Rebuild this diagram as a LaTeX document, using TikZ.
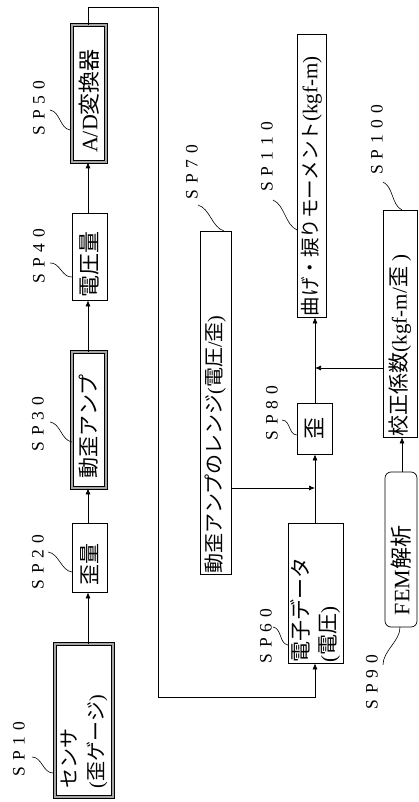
\documentclass[tikz,border=0pt]{standalone}
\usepackage{fontspec}
\usepackage{graphicx}
\setmainfont{Liberation Serif}
\newfontfamily\cjk{Noto Sans CJK JP}
\usetikzlibrary{arrows.meta,calc}
\newcommand\jp[1]{{\cjk #1}}
\newcommand\vt[2]{\rotatebox{90}{\makebox[#1][l]{#2}}}
\newcommand\vtt[3]{\rotatebox{90}{\parbox{#1}{\raggedright #2\\#3}}}
\newcommand\sk{\kern6pt}
\newcommand\leader[2]{\draw[lead] (#1) .. controls ($(#1)!0.3!(#2)!6pt!90:(#2)$) and ($(#1)!0.7!(#2)!6pt!-90:(#2)$) .. (#2);}
\tikzset{
  box/.style={draw, line width=0.7pt, inner sep=0pt, rectangle},
  dbox/.style={box, double=black!35, double distance=1.8pt},
  lab/.style={inner sep=0pt, font=\fontsize{17.5}{17.5}\selectfont},
  conn/.style={line width=0.7pt},
  arr/.style={conn, -{Latex[length=6pt,width=5pt]}},
  lead/.style={line width=0.6pt}
}
\begin{document}
\begin{tikzpicture}[x=1pt,y=-1pt]
\fill[white] (0,0) rectangle (418,802);
\useasboundingbox (0,0) rectangle (418,802);

% boxes
\node[dbox, minimum width=58pt, minimum height=153pt, font=\fontsize{20}{27}\selectfont] (b10) at (84,720.5) {\vtt{135pt}{\jp{センサ}}{(\jp{歪ゲージ})}};
\node[box, minimum width=35pt, minimum height=69pt, font=\fontsize{21}{21}\selectfont] (b20) at (89.5,557.5) {\vt{55pt}{\jp{歪量}}};
\node[dbox, minimum width=34pt, minimum height=136pt, font=\fontsize{21}{21}\selectfont] (b30) at (89,420) {\vt{116pt}{\jp{動歪アンプ}}};
\node[box, minimum width=35pt, minimum height=87pt, font=\fontsize{22}{22}\selectfont] (b40) at (89.5,256.5) {\vt{81pt}{\jp{電圧量}}};
\node[dbox, minimum width=34pt, minimum height=137pt, font=\fontsize{22}{22}\selectfont] (b50) at (89,93.5) {\vt{119pt}{A/D\jp{変換器}}};
\node[box, minimum width=55pt, minimum height=140pt, font=\fontsize{21}{27}\selectfont] (b60) at (315.5,593) {\vtt{138pt}{\jp{電子データ}}{(\jp{電圧})}};
\node[box, minimum width=31pt, minimum height=343pt, font=\fontsize{20}{20}\selectfont] (b70) at (215.5,402.5) {\vt{341pt}{\jp{動歪アンプのレンジ}(\jp{電圧}/\jp{歪})}};
\node[box, minimum width=35pt, minimum height=51pt, font=\fontsize{22}{22}\selectfont] (b80) at (314.5,428.5) {\rotatebox{90}{\jp{歪}}};
\node[box, rounded corners=6pt, minimum width=32pt, minimum height=155pt, font=\fontsize{22}{22}\selectfont] (b90) at (401,549.5) {\vt{131pt}{FEM\jp{解析}}};
\node[box, minimum width=34pt, minimum height=227pt, font=\fontsize{21}{21}\selectfont] (b100) at (400,323.5) {\vt{225pt}{\jp{校正係数}(kgf-m/\jp{歪} )}};
\node[box, minimum width=29pt, minimum height=283pt, font=\fontsize{19.5}{19.5}\selectfont] (b110) at (311.5,175.5) {\vt{281pt}{\jp{曲げ・捩りモーメント}{\fontsize{21}{21}\selectfont(kgf-m)}}};

% labels
\node[lab] (l10) at (19,749) {\rotatebox{90}{S\sk P\sk 1\sk 0}};
\node[lab] (l20) at (38,562) {\rotatebox{90}{S\sk P\sk 2\sk 0}};
\node[lab] (l30) at (38,424) {\rotatebox{90}{S\sk P\sk 3\sk 0}};
\node[lab] (l40) at (39,256) {\rotatebox{90}{S\sk P\sk 4\sk 0}};
\node[lab] (l50) at (39,108) {\rotatebox{90}{S\sk P\sk 5\sk 0}};
\node[lab] (l60) at (266,636) {\rotatebox{90}{S\sk P\sk 6\sk 0}};
\node[lab] (l70) at (192,172) {\rotatebox{90}{S\sk P\sk 7\sk 0}};
\node[lab] (l80) at (272,413) {\rotatebox{90}{S\sk P\sk 8\sk 0}};
\node[lab] (l90) at (372,682) {\rotatebox{90}{S\sk P\sk 9\sk 0}};
\node[lab] (l100) at (377,140) {\rotatebox{90}{S\sk P\sk 1\sk 0\sk 0}};
\node[lab] (l110) at (267,157) {\rotatebox{90}{S\sk P\sk 1\sk 1\sk 0}};

% leader coordinates
\coordinate (s10) at (32,757);  \coordinate (e10) at (53,773);
\coordinate (s20) at (48,552);  \coordinate (e20) at (72,572);
\coordinate (s30) at (50,422);  \coordinate (e30) at (72,442);
\coordinate (s40) at (50,263);  \coordinate (e40) at (72,277);
\coordinate (s50) at (50,110);  \coordinate (e50) at (70,130);
\coordinate (s60) at (273,627); \coordinate (e60) at (288,645);
\coordinate (s70) at (198,205); \coordinate (e70) at (224,231);
\coordinate (s80) at (282,420); \coordinate (e80) at (297,435);
\coordinate (s90) at (383,665); \coordinate (e90) at (400,627);
\coordinate (s100) at (383,182); \coordinate (e100) at (402,210);
\coordinate (s110) at (273,200); \coordinate (e110) at (297,230);
\leader{s10}{e10}
\leader{s20}{e20}
\leader{s30}{e30}
\leader{s40}{e40}
\leader{s50}{e50}
\leader{s60}{e60}
\leader{s70}{e70}
\leader{s80}{e80}
\leader{s90}{e90}
\leader{s100}{e100}
\leader{s110}{e110}

% connectors
\coordinate (c1) at (88,7);
\coordinate (c2) at (158,7);
\coordinate (c3) at (158,697);
\coordinate (c4) at (315,697);
\coordinate (c5) at (402,0);
\coordinate (j1) at (315,488);
\coordinate (j2) at (315,368);

\draw[arr] (b10.north -| c1) -- (b20.south -| c1);
\draw[arr] (b20.north -| c1) -- (b30.south -| c1);
\draw[arr] (b30.north -| c1) -- (b40.south -| c1);
\draw[arr] (b40.north -| c1) -- (b50.south -| c1);
\draw[arr] (b50.north -| c1) -- (c1) -- (c2) -- (c3) -- (c4) -- (b60.south -| c4);
\draw[arr] (b60.north -| c4) -- (b80.south -| c4);
\draw[arr] (b70.east |- j1) -- (j1);
\draw[arr] (b80.north -| c4) -- (b110.south -| c4);
\draw[arr] (b100.west |- j2) -- (j2);
\draw[arr] (b90.north -| c5) -- (b100.south -| c5);
\end{tikzpicture}
\end{document}
